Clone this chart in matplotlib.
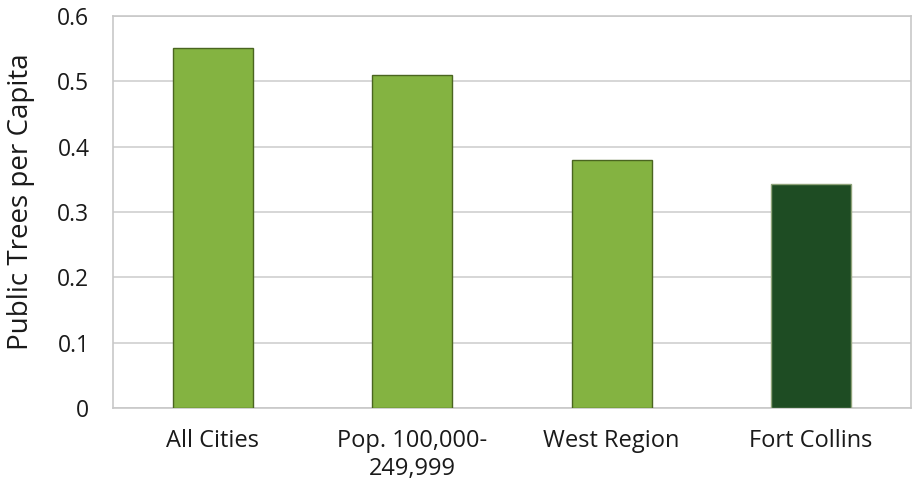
import numpy as np
import matplotlib.pyplot as plt

plt.rcParams['font.family'] = ['Open Sans', 'DejaVu Sans']

categories = ["All Cities", "Pop. 100,000-\n249,999", "West Region", "Fort Collins"]
trees_per_capita = [0.55, 0.51, 0.38, 0.342]
bar_colors = ["#84b341", "#84b341", "#84b341", "#1e4c23"]
edge_colors = ["#4a6520", "#4a6520", "#4a6520", "#8fa37a"]

fig = plt.figure(figsize=(9.15, 4.79), dpi=100)
ax = fig.add_axes([0.1235, 0.148, 0.872, 0.819])

x = np.arange(len(categories))
ax.bar(x, trees_per_capita, width=0.4, color=bar_colors,
       edgecolor=edge_colors, linewidth=1.0, zorder=3)

ax.set_xlim(-0.5, len(categories) - 0.5)
ax.set_ylim(0, 0.6)
ax.set_yticks(np.arange(0, 0.61, 0.1))
ax.set_yticklabels(["0", "0.1", "0.2", "0.3", "0.4", "0.5", "0.6"])
ax.set_xticks(x)
ax.set_xticklabels(categories, linespacing=1.2)

ax.yaxis.grid(True, color="#d0d0d0", linewidth=1.2, zorder=0)
for side in ax.spines.values():
    side.set_color("#c8c8c8")
    side.set_linewidth(1.2)

ax.tick_params(axis="both", length=0, colors="#1a1a1a")
ax.tick_params(axis="x", pad=15, labelsize=17)
ax.tick_params(axis="y", pad=17, labelsize=16.5)
ax.set_ylabel("Public Trees per Capita", fontsize=20, color="#1a1a1a")
ax.yaxis.set_label_coords(-0.098, 0.525)

fig.savefig("out.png", dpi=100)
